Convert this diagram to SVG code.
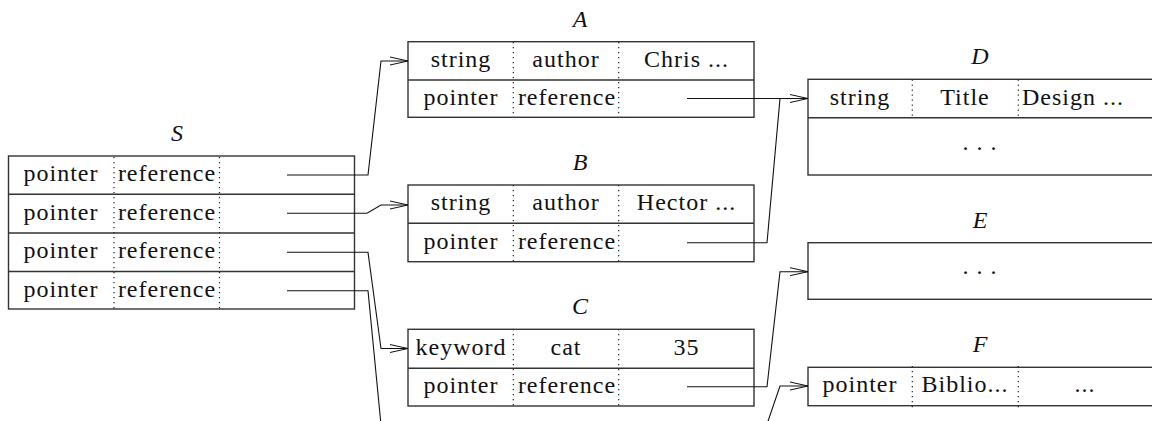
<svg xmlns="http://www.w3.org/2000/svg" width="1152" height="421" viewBox="0 0 1152 421">
<defs>
<marker id="arr" markerUnits="userSpaceOnUse" markerWidth="20" markerHeight="10" refX="18" refY="4" orient="auto" overflow="visible">
<path d="M0,0 L18,4 L0,8" fill="none" stroke="#111" stroke-width="1"/>
</marker>
<style>
.box{fill:#fff;stroke:#333;stroke-width:1.4}
.sep{stroke:#333;stroke-width:1.4}
.dot{stroke:#222;stroke-width:1.2;stroke-dasharray:1.2 3.8}
text{font-family:"Times New Roman","Liberation Serif",serif}
.t{font-size:24px;letter-spacing:1px;fill:#111;text-anchor:middle}
.lbl{font-size:24px;font-style:italic;fill:#111;text-anchor:middle}
.c{fill:none;stroke:#111;stroke-width:1.1}
</style>
</defs>

<g id="S" font-family="Times New Roman, Liberation Serif, serif">
<text class="lbl" x="177" y="141">S</text>
<rect class="box" x="8.5" y="156" width="346" height="153"/>
<line class="sep" x1="8.5" y1="194.3" x2="354.5" y2="194.3"/>
<line class="sep" x1="8.5" y1="233" x2="354.5" y2="233"/>
<line class="sep" x1="8.5" y1="271.5" x2="354.5" y2="271.5"/>
<line class="dot" x1="114" y1="157" x2="114" y2="309"/>
<line class="dot" x1="219.5" y1="157" x2="219.5" y2="309"/>
<text class="t" x="61" y="181">pointer</text><text class="t" x="167" y="181">reference</text>
<text class="t" x="61" y="219.5">pointer</text><text class="t" x="167" y="219.5">reference</text>
<text class="t" x="61" y="258">pointer</text><text class="t" x="167" y="258">reference</text>
<text class="t" x="61" y="296.5">pointer</text><text class="t" x="167" y="296.5">reference</text>
</g>

<g id="A" font-family="Times New Roman, Liberation Serif, serif">
<text class="lbl" x="580" y="27">A</text>
<rect class="box" x="408" y="41.7" width="346" height="75.6"/>
<line class="sep" x1="408" y1="80" x2="754" y2="80"/>
<line class="dot" x1="513.3" y1="42" x2="513.3" y2="117"/>
<line class="dot" x1="618.7" y1="42" x2="618.7" y2="117"/>
<text class="t" x="461" y="66.5">string</text><text class="t" x="566" y="66.5">author</text><text class="t" x="686.5" y="66.5">Chris ...</text>
<text class="t" x="461" y="104.5">pointer</text><text class="t" x="567" y="104.5">reference</text>
</g>

<g id="B" font-family="Times New Roman, Liberation Serif, serif">
<text class="lbl" x="580" y="170">B</text>
<rect class="box" x="408" y="185" width="346" height="76.7"/>
<line class="sep" x1="408" y1="223.3" x2="754" y2="223.3"/>
<line class="dot" x1="513.3" y1="185" x2="513.3" y2="261"/>
<line class="dot" x1="618.7" y1="185" x2="618.7" y2="261"/>
<text class="t" x="461" y="210">string</text><text class="t" x="566" y="210">author</text><text class="t" x="686.5" y="210">Hector ...</text>
<text class="t" x="461" y="248.5">pointer</text><text class="t" x="567" y="248.5">reference</text>
</g>

<g id="C" font-family="Times New Roman, Liberation Serif, serif">
<text class="lbl" x="580" y="314">C</text>
<rect class="box" x="408" y="329.3" width="346" height="76.7"/>
<line class="sep" x1="408" y1="368.3" x2="754" y2="368.3"/>
<line class="dot" x1="513.3" y1="329" x2="513.3" y2="406"/>
<line class="dot" x1="618.7" y1="329" x2="618.7" y2="406"/>
<text class="t" x="461" y="354.5">keyword</text><text class="t" x="566" y="354.5">cat</text><text class="t" x="686.5" y="354.5">35</text>
<text class="t" x="461" y="393">pointer</text><text class="t" x="567" y="393">reference</text>
</g>

<g id="D" font-family="Times New Roman, Liberation Serif, serif">
<text class="lbl" x="980" y="64">D</text>
<rect class="box" x="808" y="79.3" width="350" height="95.7"/>
<line class="sep" x1="808" y1="117.7" x2="1158" y2="117.7"/>
<line class="dot" x1="912.3" y1="79.5" x2="912.3" y2="117.5"/>
<line class="dot" x1="1018.3" y1="79.5" x2="1018.3" y2="117.5"/>
<text class="t" x="860" y="104.5">string</text><text class="t" x="965" y="104.5">Title</text><text class="t" x="1073" y="104.5">Design ...</text>
<text class="t" x="980" y="150">. . .</text>
</g>

<g id="E" font-family="Times New Roman, Liberation Serif, serif">
<text class="lbl" x="980" y="228">E</text>
<rect class="box" x="808" y="242.7" width="350" height="56.6"/>
<text class="t" x="980" y="274">. . .</text>
</g>

<g id="F" font-family="Times New Roman, Liberation Serif, serif">
<text class="lbl" x="980" y="352">F</text>
<rect class="box" x="808" y="367.3" width="350" height="38.4"/>
<line class="dot" x1="912.3" y1="366" x2="912.3" y2="408"/>
<line class="dot" x1="1018.3" y1="366" x2="1018.3" y2="408"/>
<text class="t" x="860" y="392">pointer</text><text class="t" x="965" y="392">Biblio...</text><text class="t" x="1085" y="392">...</text>
</g>

<g id="connectors">
<path class="c" d="M287,175 H368 L381,61 H408" marker-end="url(#arr)"/>
<path class="c" d="M287,213.3 H367 L381,205 H408" marker-end="url(#arr)"/>
<path class="c" d="M287,252.3 H368 L381,348.5 H408" marker-end="url(#arr)"/>
<path class="c" d="M287,290.7 H368 L381.5,430"/>
<path class="c" d="M687,98.5 H808" marker-end="url(#arr)"/>
<path class="c" d="M687,242.7 H767 L780,98.5 H808"/>
<path class="c" d="M687,386.7 H767 L780,271.7 H808" marker-end="url(#arr)"/>
<path class="c" d="M765,430 L780,386 H808" marker-end="url(#arr)"/>
</g>
</svg>
